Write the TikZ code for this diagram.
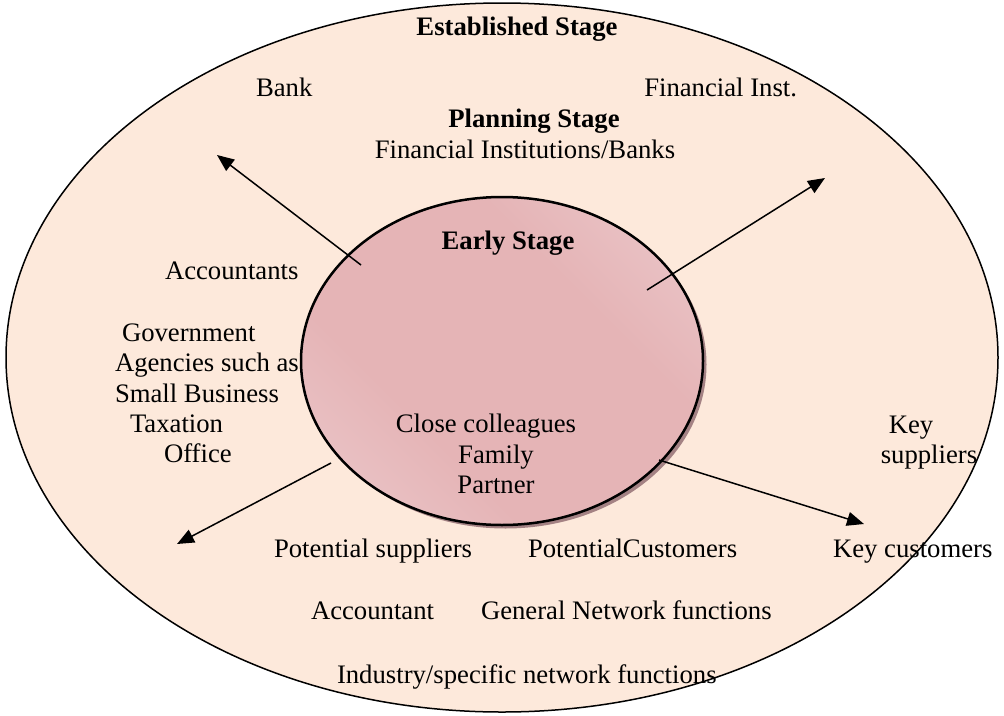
\documentclass[tikz,border=0pt]{standalone}
\usepackage{fontspec}
\setmainfont{Liberation Serif}
\usetikzlibrary{arrows.meta,shapes.geometric}
\definecolor{outerfill}{HTML}{FDE9DB}
\definecolor{pinkdark}{HTML}{E5B4B6}
\definecolor{pinklight}{HTML}{F1D9DD}
\definecolor{shadowc}{HTML}{A48284}
\pgfdeclarehorizontalshading{pinkband}{100bp}{color(0bp)=(pinklight); color(36bp)=(pinkdark); color(64bp)=(pinkdark); color(100bp)=(pinklight)}
\begin{document}
\begin{tikzpicture}[x=1pt,y=-1pt,
  lbl/.style={inner sep=0pt,outer sep=0pt,font=\fontsize{26.7}{30.5}\selectfont},
  boldlbl/.style={inner sep=0pt,outer sep=0pt,font=\fontsize{26.7}{30.5}\selectfont\bfseries},
  link/.style={line width=1.5pt,-{Triangle[length=17pt,width=14pt]}}]
\useasboundingbox (0,0) rectangle (1004,715);
% outer stage
\node[ellipse,draw,line width=1.5pt,fill=outerfill,minimum width=992pt,minimum height=709pt,inner sep=0pt] (outer) at (502,357.5) {};
% inner stage with shadow
\node[ellipse,fill=shadowc,minimum width=402pt,minimum height=328pt,inner sep=0pt] (innershadow) at (505.5,364.5) {};
\node[ellipse,draw,line width=2.5pt,shading=pinkband,shading angle=45,minimum width=402pt,minimum height=328pt,inner sep=0pt] (inner) at (502,361) {};
% arrows
\coordinate (a1s) at (361,265); \coordinate (a1e) at (217,155);
\coordinate (a2s) at (647,290); \coordinate (a2e) at (825,178);
\coordinate (a3s) at (331,463); \coordinate (a3e) at (177,544);
\coordinate (a4s) at (659,460); \coordinate (a4e) at (864,524);
\draw[link] (a1s) -- (a1e);
\draw[link] (a2s) -- (a2e);
\draw[link] (a3s) -- (a3e);
\draw[link] (a4s) -- (a4e);
% texts
\node[boldlbl,anchor=base] (est) at (517,35) {Established Stage};
\node[lbl,anchor=base west] (bank) at (256,96) {Bank};
\node[lbl,anchor=base east] (finst) at (797,96) {Financial Inst.};
\node[boldlbl,anchor=base] (plan) at (534,127) {Planning Stage};
\node[lbl,anchor=base] (fib) at (525,158) {Financial Institutions/Banks};
\node[boldlbl,anchor=base] (early) at (508,249) {Early Stage};
\node[lbl,anchor=base west] (acc) at (165,279) {Accountants};
\node[lbl,anchor=base west] (gov1) at (122,341) {Government};
\node[lbl,anchor=base west] (gov2) at (115,371) {Agencies such as};
\node[lbl,anchor=base west] (gov3) at (115,402) {Small Business};
\node[lbl,anchor=base west] (gov4) at (130,432) {Taxation};
\node[lbl,anchor=base west] (gov5) at (164,462) {Office};
\node[lbl,anchor=base] (close) at (486,432) {Close colleagues};
\node[lbl,anchor=base] (family) at (496,463) {Family};
\node[lbl,anchor=base] (partner) at (496,493) {Partner};
\node[lbl,anchor=base] (key1) at (911,433) {Key};
\node[lbl,anchor=base] (key2) at (929,463) {suppliers};
\node[lbl,anchor=base west] (keycust) at (833,557) {Key customers};
\node[lbl,anchor=base west] (potsup) at (274,557) {Potential suppliers};
\node[lbl,anchor=base west] (potcus) at (528,557) {PotentialCustomers};
\node[lbl,anchor=base west] (accnt) at (311,619) {Accountant};
\node[lbl,anchor=base west] (gen) at (481,619) {General Network functions};
\node[lbl,anchor=base west] (ind) at (337,683) {Industry/specific network functions};
\end{tikzpicture}
\end{document}
